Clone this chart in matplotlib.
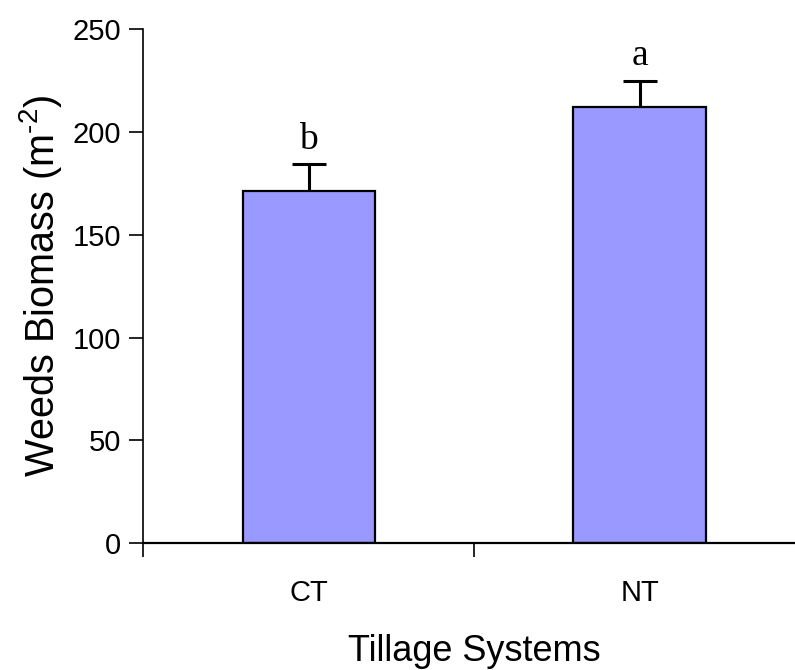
import numpy as np
import matplotlib
matplotlib.use("Agg")
import matplotlib.pyplot as plt

# -------------------------------------------------
# Data
# -------------------------------------------------
systems = ["CT", "NT"]
biomass = [171.3, 212.4]
errors = [13.0, 12.6]
letters = ["b", "a"]

plt.rcParams["font.family"] = ["Liberation Sans", "DejaVu Sans"]

fig = plt.figure(figsize=(7.95, 6.70), dpi=100)
# axes runs slightly past the right edge, like the original
left, right = 143.3 / 795, 805.0 / 795
bottom, top = 1 - 543.3 / 670, 1 - 29.3 / 670
ax = fig.add_axes([left, bottom, right - left, top - bottom])

x = np.arange(len(systems))
tops = np.array(biomass) + np.array(errors)

ax.bar(x, biomass, width=0.4, color="#9999FF", edgecolor="black",
       linewidth=1.6, zorder=2)
# upper error bar only (cap on top)
ax.vlines(x, biomass, tops, color="black", linewidth=2.2, zorder=3)
ax.plot(x, tops, ls="none", marker="_", markersize=24, mew=2.2,
        color="black", zorder=3)

for xi, t, s in zip(x, tops, letters):
    ax.text(xi, t + 7.5, s, ha="center", va="baseline", fontsize=27,
            family=["Liberation Serif", "DejaVu Serif"])

# -------------------------------------------------
# Axes formatting
# -------------------------------------------------
ax.set_xlim(-0.5, 1.5)
ax.set_ylim(0, 250)
ax.set_yticks([0, 50, 100, 150, 200, 250])
ax.set_xticks([-0.5, 0.5, 1.5])
ax.set_xticklabels([])
ax.set_xticks(x, minor=True)
ax.set_xticklabels(systems, minor=True)
ax.tick_params(axis="x", which="minor", length=0, pad=26, labelsize=21)
ax.tick_params(axis="x", which="major", length=10, width=1.2, direction="out")
ax.tick_params(axis="y", length=10, width=1.2, direction="out", labelsize=21, pad=6)

for side in ["top", "right"]:
    ax.spines[side].set_visible(False)
ax.spines["left"].set_linewidth(1.2)
ax.spines["bottom"].set_linewidth(1.6)

ax.set_ylabel("Weeds Biomass (m$^{\\mathregular{\u20102}}$)", fontsize=28.5, labelpad=6)
ax.set_xlabel("Tillage Systems", fontsize=26, labelpad=19)

fig.savefig("out.png", dpi=100)
